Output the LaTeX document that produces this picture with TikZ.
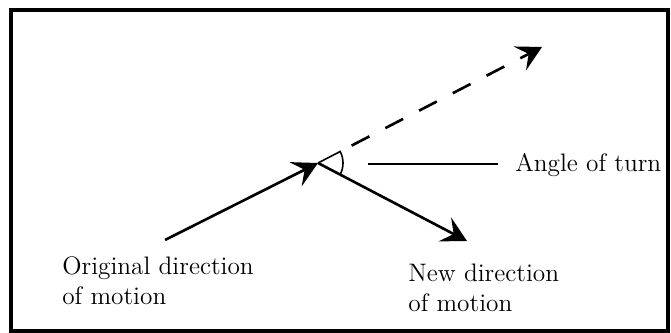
\documentclass[tikz,border=0pt]{standalone}
\usepackage{tikz}
\usetikzlibrary{arrows.meta, calc, positioning}

\begin{document}
\begin{tikzpicture}[x=0.02cm, y=0.02cm,
        motion/.style={line width=1.5pt, -{Stealth[length=0.5cm, width=0.54cm, inset=0.2cm]}},
        caption/.style={inner sep=0pt, align=left, font=\fontsize{14.4}{17}\selectfont}]
    \useasboundingbox (0,0) rectangle (671,333);
    \draw[line width=2.3pt] (11,2) rectangle (668,323);

    \coordinate (orig) at (165,93);
    \coordinate (turn) at (318,170);
    \coordinate (dashtip) at (542,286);
    \coordinate (newtip) at (467,92);
    \coordinate (dashstart) at ($(turn)!0.15!(dashtip)$);

    \draw[motion] (orig) -- (turn);
    \draw[motion] (turn) -- (newtip);
    \draw[motion, dash pattern=on 0.4cm off 0.36cm] (dashstart) -- (dashtip);

    % angle of turn
    \draw[line width=0.9pt] (turn) -- ([shift={(27.4:25)}]turn)
        arc[start angle=27.4, end angle=-27.6, radius=25];

    \node[caption, anchor=base west] (turnlabel) at (515,161) {Angle of turn};
    \coordinate (armstart) at (368,169);
    \draw[line width=1pt] (armstart) -- ([xshift=-0.34cm]armstart -| turnlabel.west);

    \node[caption, anchor=north west] (origlabel) at (62,77) {Original direction\\of motion};
    \node[caption, anchor=north west] (newlabel) at (408,69) {New direction\\of motion};
\end{tikzpicture}
\end{document}
